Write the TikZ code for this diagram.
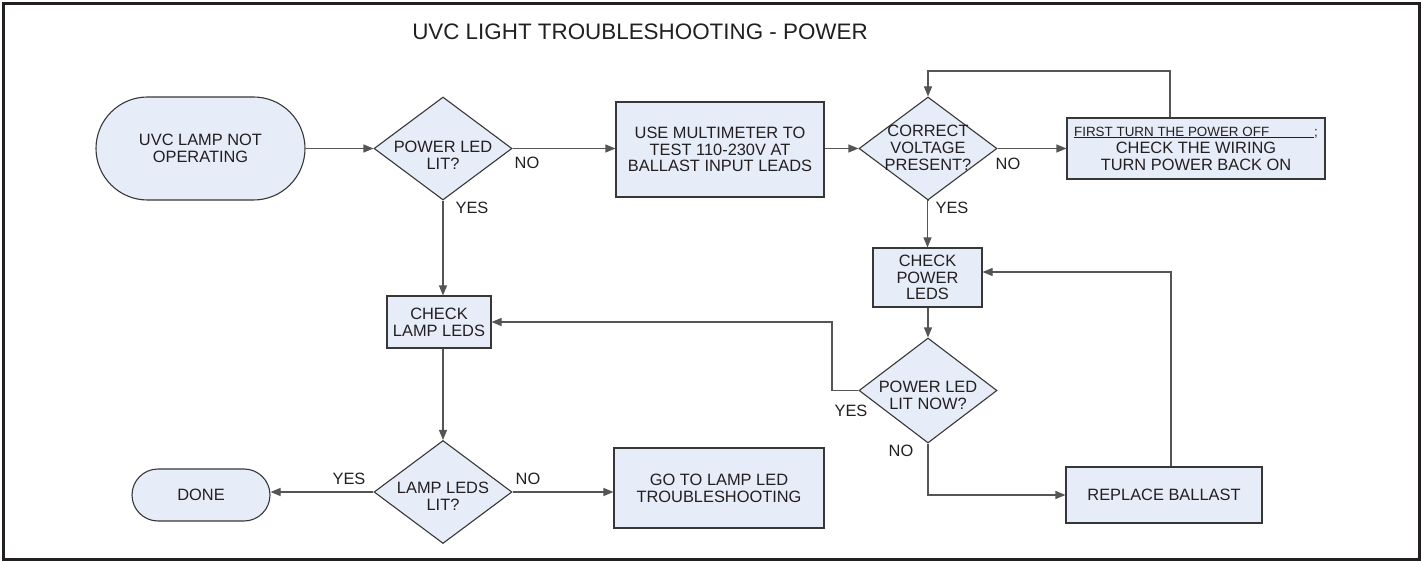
\documentclass[tikz,border=0pt]{standalone}
\usepackage{fontspec}
\setmainfont{Liberation Sans}
\usetikzlibrary{arrows.meta,shapes.geometric,shapes.misc}
\definecolor{boxfill}{RGB}{230,237,248}
\definecolor{edgec}{RGB}{55,55,55}
\definecolor{lnc}{RGB}{85,85,85}
\definecolor{ink}{RGB}{35,31,32}
\newcommand\bfnt{\fontsize{16.4}{16.8}\selectfont}
\begin{document}
\begin{tikzpicture}[x=1pt,y=-1pt,
 proc/.style={rectangle,draw=edgec,fill=boxfill,line width=1.1pt,inner sep=0pt,align=center,font=\bfnt,text=ink},
 term/.style={rounded rectangle,draw=edgec,fill=boxfill,line width=1.1pt,inner sep=0pt,align=center,font=\bfnt,text=ink},
 dec/.style={diamond,draw=edgec,fill=boxfill,line width=1.1pt,inner sep=0pt,minimum width=138pt,minimum height=103pt},
 dtext/.style={align=center,font=\bfnt,text=ink,inner sep=0pt},
 lbl/.style={font=\bfnt,text=ink,inner sep=0pt},
 conn/.style={draw=lnc,line width=1.1pt},
 arr/.style={conn,-{Triangle[length=10pt,width=8pt]}},
]
\useasboundingbox (0,0) rectangle (1421,561);
\draw[line width=2.5pt,draw=ink] (3.5,3.5) rectangle (1419.5,559.5);

\node[font=\fontsize{22.4}{24}\selectfont,text=ink,inner sep=0pt] (title) at (640,32) {UVC LIGHT TROUBLESHOOTING - POWER};

% nodes
\node[term,minimum width=209pt,minimum height=103pt] (start) at (200.5,148.5) {UVC LAMP NOT\\OPERATING};
\node[dec] (d1) at (443,148.5) {};
\node[dtext] (d1t) at (443,155) {POWER LED\\LIT?};
\node[proc,minimum width=208pt,minimum height=95pt] (mm) at (720,149.5) {USE MULTIMETER TO\\TEST 110-230V AT\\BALLAST INPUT LEADS};
\node[dec] (d2) at (928,148.5) {};
\node[dtext] (d2t) at (928,148) {CORRECT\\VOLTAGE\\PRESENT?};
\node[proc,minimum width=258pt,minimum height=61pt] (wiring) at (1196,148.5)
 {{\fontsize{13.4}{15}\selectfont\underline{\makebox[240pt][l]{FIRST TURN THE POWER OFF}};}\\[0.5pt]CHECK THE WIRING\\TURN POWER BACK ON};
\node[proc,minimum width=109pt,minimum height=59pt] (pw) at (927.5,277.5) {CHECK\\POWER\\LEDS};
\node[dec,minimum height=105pt] (d3) at (928,390.5) {};
\node[dtext] (d3t) at (928,395) {POWER LED\\LIT NOW?};
\node[proc,minimum width=196pt,minimum height=56pt] (rb) at (1164,495) {REPLACE BALLAST};
\node[proc,minimum width=104pt,minimum height=52pt] (lamp) at (439,322) {CHECK\\LAMP LEDS};
\node[dec] (d4) at (443,492) {};
\node[dtext] (d4t) at (443,496) {LAMP LEDS\\LIT?};
\node[term,minimum width=138pt,minimum height=52pt] (done) at (201,495) {DONE};
\node[proc,minimum width=210pt,minimum height=80pt] (go) at (719,488) {GO TO LAMP LED\\TROUBLESHOOTING};

% helper coordinates
\coordinate (looptop) at (1170,71);
\coordinate (rbup) at (1171,272);
\coordinate (yesturn) at (832,390.5);

% connectors
\draw[arr] (start.east) -- (d1.west);
\draw[arr] (d1.east) -- (d1.east -| mm.west);
\draw[arr] (d1.south) -- (d1.south |- lamp.north);
\draw[arr] (mm.east |- d2.west) -- (d2.west);
\draw[arr] (d2.east) -- (d2.east -| wiring.west);
\draw[arr] (wiring.north -| looptop) -- (looptop) -| (d2.north);
\draw[arr] (d2.south) -- (d2.south -| pw.north) -- (pw.north);
\draw[arr] (pw.south -| d3.north) -- (d3.north);
\draw[arr] (d3.west) -- (yesturn) |- (lamp.east);
\draw[arr] (d3.south) |- (rb.west);
\draw[arr] (rb.north -| rbup) -- (rbup) -- (pw.east |- rbup);
\draw[arr] (lamp.south -| d4.north) -- (d4.north);
\draw[arr] (d4.west) -- (d4.west -| done.east);
\draw[arr] (d4.east) -- (d4.east -| go.west);

% labels
\node[lbl] (no1) at (527,163) {NO};
\node[lbl] (yes1) at (472,208) {YES};
\node[lbl] (no2) at (1008,164) {NO};
\node[lbl] (yes2) at (952,208) {YES};
\node[lbl] (yes3) at (851,411) {YES};
\node[lbl] (no3) at (901,451) {NO};
\node[lbl] (yes4) at (349,479) {YES};
\node[lbl] (no4) at (528,479) {NO};
\end{tikzpicture}
\end{document}
